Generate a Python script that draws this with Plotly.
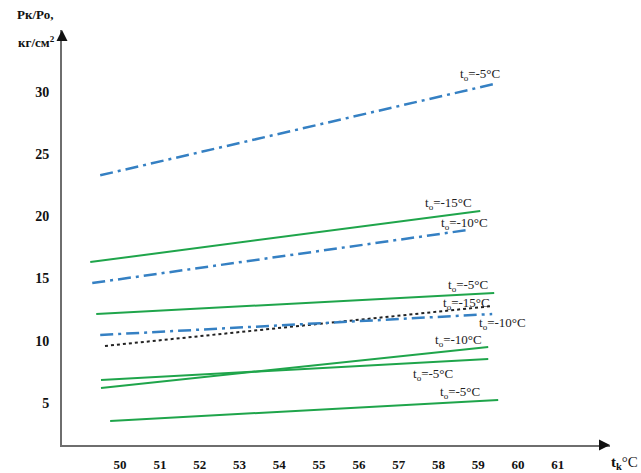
import plotly.graph_objects as go

# Condenser temperature t_k (°C) at the start and end of each line
x_top5 = [49.5, 59.47]
y_top5 = [23.3, 30.7]
x_g15 = [49.25, 59.05]
y_g15 = [16.32, 20.43]
x_b10 = [49.3, 58.74]
y_b10 = [14.63, 18.9]
x_g5a = [49.4, 59.4]
y_g5a = [12.14, 13.83]
x_d15 = [49.62, 59.35]
y_d15 = [9.57, 12.78]
x_b10b = [49.5, 59.35]
y_b10b = [10.45, 12.14]
x_g10 = [49.52, 59.25]
y_g10 = [6.19, 9.49]
x_g5b = [49.52, 59.25]
y_g5b = [6.83, 8.52]
x_g5c = [49.75, 59.5]
y_g5c = [3.53, 5.22]

x_ticks = [50, 51, 52, 53, 54, 55, 56, 57, 58, 59, 60, 61]
y_ticks = [5, 10, 15, 20, 25, 30]

GREEN = "#1fa54b"
BLUE = "#3580c3"
DASHDOT = "13px,5px,3px,5px"
SERIF = "Liberation Serif, Times New Roman, serif"

series = [
    (x_top5, y_top5, BLUE, DASHDOT, 2.5),
    (x_g15, y_g15, GREEN, "solid", 2),
    (x_b10, y_b10, BLUE, DASHDOT, 2.5),
    (x_g5a, y_g5a, GREEN, "solid", 2),
    (x_d15, y_d15, "#222222", "dot", 2),
    (x_b10b, y_b10b, BLUE, DASHDOT, 2.5),
    (x_g10, y_g10, GREEN, "solid", 2),
    (x_g5b, y_g5b, GREEN, "solid", 2),
    (x_g5c, y_g5c, GREEN, "solid", 2),
]

fig = go.Figure()
for xs, ys, col, dash, w in series:
    fig.add_trace(go.Scatter(x=xs, y=ys, mode="lines",
                             line=dict(color=col, dash=dash, width=w),
                             showlegend=False, hoverinfo="skip"))

# Curve labels: (temperature, x, y)
labels = [
    ("-5", 59.05, 31.4),
    ("-15", 58.25, 21.0),
    ("-10", 58.65, 19.4),
    ("-5", 58.75, 14.4),
    ("-15", 58.7, 12.95),
    ("-10", 59.6, 11.4),
    ("-10", 58.5, 10.0),
    ("-5", 57.85, 7.3),
    ("-5", 58.55, 5.85),
]
for t, lx, ly in labels:
    fig.add_annotation(x=lx, y=ly, text=f"t<sub>o</sub>={t}°C",
                       showarrow=False, xanchor="center", yanchor="middle",
                       font=dict(family=SERIF, size=13, color="#222"))

AX = "#6e6e6e"
# Axis arrowheads
fig.add_annotation(x=1.0, y=0, xref="paper", yref="paper", ax=-12, ay=0,
                   showarrow=True, arrowhead=2, arrowsize=1.1, arrowwidth=2,
                   arrowcolor="#111", text="")
fig.add_annotation(x=0, y=1.0, xref="paper", yref="paper", ax=0, ay=12,
                   showarrow=True, arrowhead=2, arrowsize=1.1, arrowwidth=2,
                   arrowcolor="#111", text="")
# Axis titles
fig.add_annotation(x=1.0, y=0, xref="paper", yref="paper", xshift=14, yshift=-18,
                   text="<b>t<sub>k</sub></b>°C", showarrow=False,
                   xanchor="center", yanchor="middle",
                   font=dict(family=SERIF, size=15, color="#111"))
fig.add_annotation(x=0, y=1.0, xref="paper", yref="paper", xshift=-27, yshift=16,
                   text="<b>Рк/Ро,</b>", showarrow=False,
                   xanchor="center", yanchor="middle",
                   font=dict(family=SERIF, size=13, color="#111"))
fig.add_annotation(x=0, y=1.0, xref="paper", yref="paper", xshift=-26, yshift=-12,
                   text="<b>кг/см<sup>2</sup></b>", showarrow=False,
                   xanchor="center", yanchor="middle",
                   font=dict(family=SERIF, size=13, color="#111"))

fig.update_layout(
    width=641, height=473,
    margin=dict(l=62, r=31, t=30, b=28),
    paper_bgcolor="white", plot_bgcolor="white",
    xaxis=dict(range=[48.54, 62.31], tickvals=x_ticks, showgrid=False,
               zeroline=False, showline=True, linecolor=AX, linewidth=2,
               ticks="", ticklabelstandoff=6, automargin=False,
               tickfont=dict(family=SERIF, size=13, color="#111",
                             weight="bold")),
    yaxis=dict(range=[1.6, 34.99], tickvals=y_ticks, showgrid=False,
               zeroline=False, showline=True, linecolor=AX, linewidth=2,
               ticks="", ticklabelstandoff=8, automargin=False,
               tickfont=dict(family=SERIF, size=14, color="#111",
                             weight="bold")),
)

fig.write_html("out.html")
